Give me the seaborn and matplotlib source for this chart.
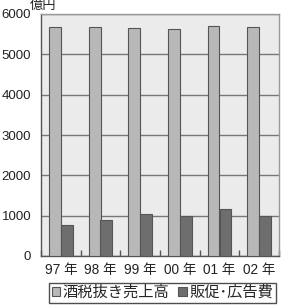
import matplotlib
matplotlib.use("Agg")
import matplotlib.pyplot as plt
import seaborn as sns
import pandas as pd
from matplotlib.ticker import FixedLocator

years = ["97 年", "98 年", "99 年", "00 年", "01 年", "02 年"]
sales = [5680, 5670, 5650, 5620, 5700, 5670]
promo = [760, 890, 1030, 980, 1160, 980]
series_names = ["酒税抜き売上高", "販促･広告費"]

df = pd.DataFrame({
    "year": years * 2,
    "value": sales + promo,
    "series": [series_names[0]] * len(years) + [series_names[1]] * len(years),
})

sns.set_theme(style="white")
plt.rcParams["font.family"] = ["Liberation Sans", "Noto Sans CJK JP", "DejaVu Sans"]

fig = plt.figure(figsize=(2.82, 3.06), dpi=100)
ax = fig.add_axes([41/282, 1 - 256/306, 238/282, 242/306])
ax.set_facecolor("#ebebeb")

sns.barplot(data=df, x="year", y="value", hue="series",
            palette=["#b8b8b8", "#6e6e6e"], width=0.6, gap=0,
            edgecolor="#555555", linewidth=0.8, ax=ax, zorder=3)

ax.set_ylim(0, 6000)
ax.set_xlim(-0.5, 5.5)
ax.set_yticks([0, 1000, 2000, 3000, 4000, 5000, 6000])
ax.yaxis.grid(True, color="#777777", linewidth=1.0, zorder=0)
ax.set_axisbelow(True)
for s in ax.spines.values():
    s.set_color("#999999")
    s.set_linewidth(1.0)
ax.spines["left"].set_color("#555555")
ax.spines["bottom"].set_color("#555555")
ax.tick_params(axis="y", length=0, labelsize=9.5, pad=7, labelcolor="#222222")
ax.tick_params(axis="x", length=0, labelsize=9.8, pad=5, labelcolor="#222222")
ax.xaxis.set_minor_locator(FixedLocator([-0.5, 0.5, 1.5, 2.5, 3.5, 4.5, 5.5]))
ax.tick_params(axis="x", which="minor", direction="in", length=4, color="#555555", bottom=True)
ax.set_xlabel("")
ax.set_ylabel("")

fig.text(30/282, 1 - 6/306, "億円", fontsize=9.5, va="center", ha="left", color="#222222")

handles, labels = ax.get_legend_handles_labels()
ax.legend(handles, labels, loc="upper center", bbox_to_anchor=(0.51, -0.11),
          ncol=2, frameon=True, fontsize=11, handlelength=0.55, handleheight=0.55,
          handletextpad=0.15, columnspacing=0.6, borderpad=0.2, borderaxespad=0,
          fancybox=False, edgecolor="#222222")
ax.get_legend().get_frame().set_linewidth(1.0)

fig.savefig("out.png", dpi=100)
